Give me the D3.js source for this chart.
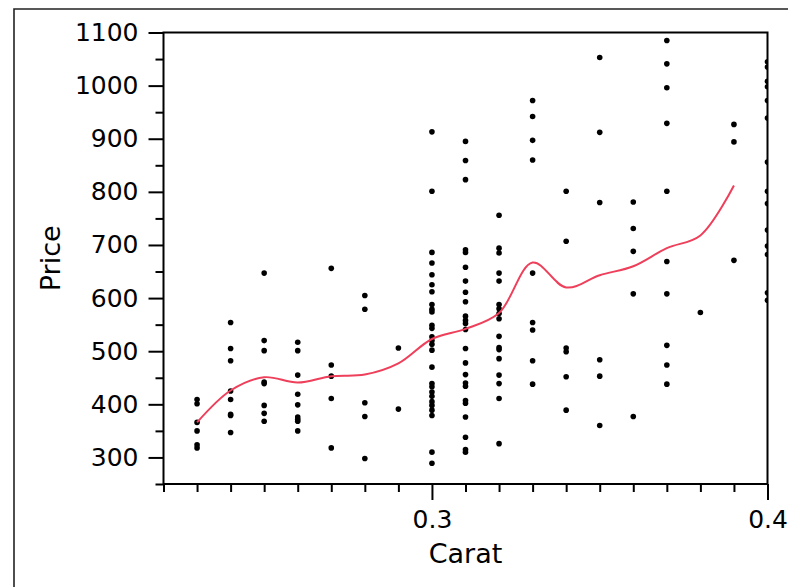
<!DOCTYPE html>
<html>
<head>
<meta charset="utf-8">
<script src="https://cdn.jsdelivr.net/npm/d3@7"></script>
<style>
  html, body { margin: 0; padding: 0; background: #fff; overflow: hidden; }
  svg { display: block; }
  text { font-family: "DejaVu Sans", sans-serif; fill: #000; }
</style>
</head>
<body>
<svg id="chart" width="788" height="587"></svg>
<script>
// Carat groups and the prices observed at each one
const carats = [0.23, 0.24, 0.25, 0.26, 0.27, 0.28, 0.29, 0.30, 0.31, 0.32, 0.33, 0.34, 0.35, 0.36, 0.37, 0.38, 0.39, 0.40];
const prices = [
  [409, 401, 366, 350, 324, 318],
  [554, 505, 482, 425, 409, 381, 379, 347],
  [647, 520, 501, 442, 439, 398, 383, 368],
  [517, 501, 455, 419, 399, 376, 372, 368, 350],
  [656, 474, 453, 411, 318],
  [605, 579, 403, 377, 298],
  [506, 391],
  [913, 801, 686, 666, 644, 625, 612, 588, 579, 574, 549, 543, 527, 520, 513, 502, 470, 439, 433, 423, 415, 405, 398, 389, 379, 310, 289],
  [895, 859, 823, 691, 686, 658, 632, 611, 593, 566, 558, 552, 541, 505, 478, 456, 440, 434, 407, 402, 376, 338, 315, 310],
  [756, 694, 685, 647, 632, 588, 580, 571, 561, 528, 507, 503, 486, 455, 439, 411, 326],
  [972, 942, 897, 860, 647, 554, 540, 482, 438],
  [801, 707, 506, 499, 452, 389],
  [1053, 912, 780, 484, 453, 360],
  [781, 731, 688, 608, 377],
  [1085, 1041, 996, 929, 801, 669, 608, 511, 474, 438],
  [573],
  [927, 894, 671],
  [1045, 1035, 1008, 998, 972, 939, 856, 801, 778, 728, 698, 682, 610, 596]
];

// Smoothed trend of price against carat
const smoothCarat = [0.23, 0.24, 0.25, 0.26, 0.27, 0.28, 0.29, 0.30, 0.31, 0.32, 0.33, 0.34, 0.35, 0.36, 0.37, 0.38, 0.39];
const smoothPrice = [366, 426, 451, 441, 453, 456, 477, 523, 542, 572, 667, 620, 643, 660, 694, 718, 812];

// Axis ticks
const yMajorTicks = [300, 400, 500, 600, 700, 800, 900, 1000, 1100];
const yMinorTicks = [250, 350, 450, 550, 650, 750, 850, 950, 1050];
const xMajorTicks = [0.3, 0.4];
const xMinorTicks = [0.22, 0.23, 0.24, 0.25, 0.26, 0.27, 0.28, 0.29, 0.31, 0.32, 0.33, 0.34, 0.35, 0.36, 0.37, 0.38, 0.39];

const svg = d3.select("#chart");
const plot = { left: 163.5, top: 32.5, right: 767.5, bottom: 484 };

const x = d3.scaleLinear().domain([0.22, 0.40]).range([plot.left, plot.right]);
const y = d3.scaleLinear().domain([250, 1100]).range([plot.bottom, plot.top]);

// Outer panel frame (left and top edges; the rest runs past the view)
svg.append("path")
  .attr("d", "M14,600V9H800")
  .attr("fill", "none").attr("stroke", "#222").attr("stroke-width", 1.6);

svg.append("clipPath").attr("id", "plot-clip")
  .append("rect")
  .attr("x", plot.left).attr("y", plot.top)
  .attr("width", plot.right - plot.left).attr("height", plot.bottom - plot.top);

// Scatter points
const points = [];
carats.forEach((c, i) => prices[i].forEach(p => points.push({ c, p })));

const g = svg.append("g").attr("clip-path", "url(#plot-clip)");
g.selectAll("circle").data(points).join("circle")
  .attr("cx", d => x(d.c))
  .attr("cy", d => y(d.p))
  .attr("r", 2.8)
  .attr("fill", "#000");

// Smooth line
const line = d3.line()
  .x((d, i) => x(smoothCarat[i]))
  .y(d => y(d))
  .curve(d3.curveCatmullRom.alpha(0.5));
g.append("path")
  .attr("d", line(smoothPrice))
  .attr("fill", "none")
  .attr("stroke", "#ee3f5b")
  .attr("stroke-width", 2);

// Plot border
svg.append("rect")
  .attr("x", plot.left).attr("y", plot.top)
  .attr("width", plot.right - plot.left).attr("height", plot.bottom - plot.top)
  .attr("fill", "none").attr("stroke", "#000").attr("stroke-width", 2);

function styleAxis(sel) {
  sel.select(".domain").remove();
  sel.selectAll(".tick line").attr("stroke", "#000").attr("stroke-width", 2);
  sel.selectAll(".tick text").attr("font-size", 25).attr("font-family", "DejaVu Sans, sans-serif").attr("fill", "#000");
}

// Y axis
svg.append("g").attr("transform", `translate(${plot.left},0)`)
  .call(d3.axisLeft(y).tickValues(yMinorTicks).tickSize(8).tickFormat(""))
  .call(styleAxis);
svg.append("g").attr("transform", `translate(${plot.left},0)`)
  .call(d3.axisLeft(y).tickValues(yMajorTicks).tickSize(15).tickPadding(10).tickFormat(d3.format("d")))
  .call(styleAxis);

// X axis
svg.append("g").attr("transform", `translate(0,${plot.bottom})`)
  .call(d3.axisBottom(x).tickValues(xMinorTicks).tickSize(8).tickFormat(""))
  .call(styleAxis);
svg.append("g").attr("transform", `translate(0,${plot.bottom})`)
  .call(d3.axisBottom(x).tickValues(xMajorTicks).tickSize(16).tickPadding(10).tickFormat(d3.format(".1f")))
  .call(styleAxis);

// Axis titles
svg.append("text")
  .attr("x", (plot.left + plot.right) / 2).attr("y", 563)
  .attr("text-anchor", "middle").attr("font-size", 27)
  .text("Carat");
svg.append("text")
  .attr("transform", `translate(60,${(plot.top + plot.bottom) / 2}) rotate(-90)`)
  .attr("text-anchor", "middle").attr("font-size", 27)
  .text("Price");
</script>
</body>
</html>
